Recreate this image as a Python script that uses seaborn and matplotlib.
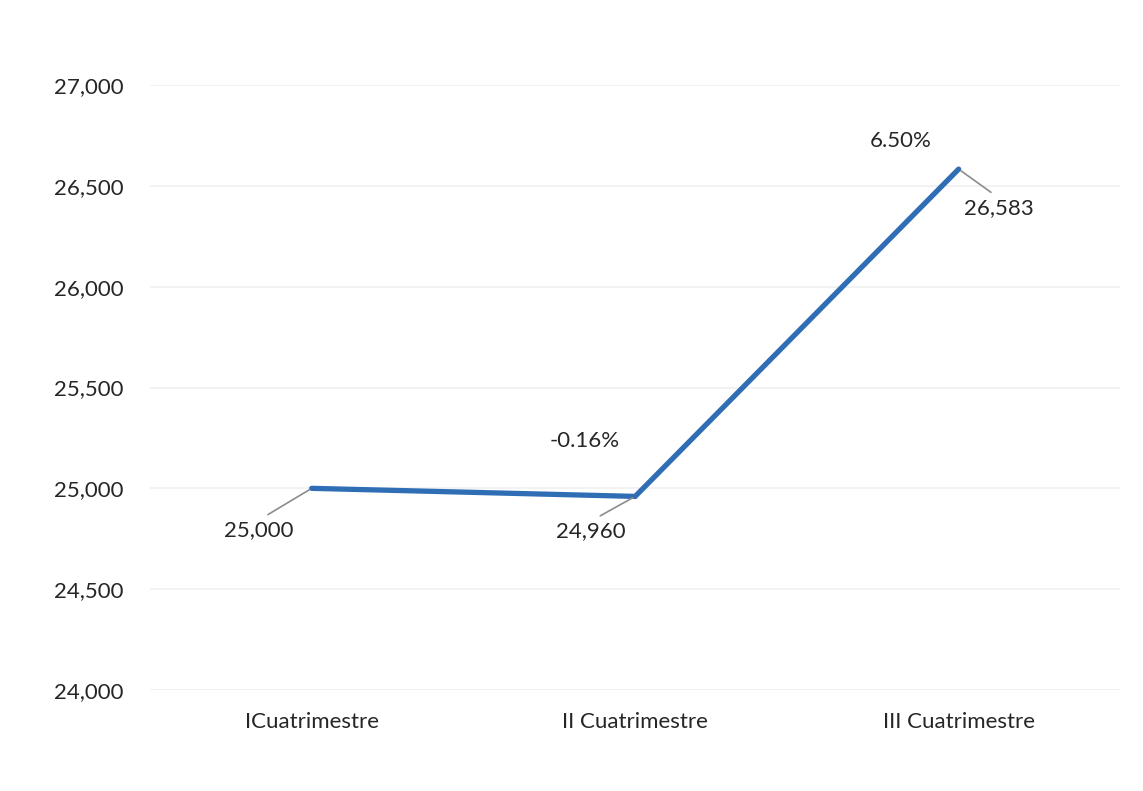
import matplotlib
matplotlib.use("Agg")
import matplotlib.pyplot as plt
import seaborn as sns
import pandas as pd
from matplotlib.ticker import FuncFormatter

# data
periods = ["ICuatrimestre", "II Cuatrimestre", "III Cuatrimestre"]
values = [25000, 24960, 26583]
pct_change = [None, "-0.16%", "6.50%"]

y_ticks = [24000, 24500, 25000, 25500, 26000, 26500, 27000]

# label placement (offsets in points from each point)
value_offsets = [(-38, -30), (-32, -25), (29, -28)]
pct_offsets = [None, (-36, 40), (-42, 20)]

sns.set_theme(style="white")
plt.rcParams["font.family"] = ["Lato", "DejaVu Sans"]

df = pd.DataFrame({"periodo": periods, "valor": values})

fig = plt.figure(figsize=(11.43, 7.91), dpi=100)
ax = fig.add_axes([0.1312, 0.1277, 0.849, 0.7648])

sns.lineplot(data=df, x="periodo", y="valor", ax=ax, color="#2F6EB5",
             linewidth=3.8, sort=False, solid_joinstyle="miter")

ax.set_ylim(y_ticks[0], y_ticks[-1])
ax.set_xlim(-0.5, len(periods) - 0.5)
ax.set_yticks(y_ticks)
ax.yaxis.set_major_formatter(FuncFormatter(lambda v, p: f"{v:,.0f}"))
ax.grid(axis="y", color="#F0F0F0", linewidth=1.2)
ax.set_axisbelow(True)
for s in ax.spines.values():
    s.set_visible(False)
ax.set_xlabel("")
ax.set_ylabel("")
fs = 16
ax.tick_params(axis="y", length=0, pad=19, labelsize=fs, labelcolor="#262626")
ax.tick_params(axis="x", length=0, pad=16, labelsize=fs, labelcolor="#262626")

for i, (v, off) in enumerate(zip(values, value_offsets)):
    ax.annotate(f"{v:,}", xy=(i, v), xytext=off, textcoords="offset points",
                ha="center", va="center", fontsize=fs, color="#262626",
                arrowprops=dict(arrowstyle="-", color="#8C8C8C", lw=1.2,
                                relpos=(0.5, 1.0), shrinkA=3, shrinkB=2))

for i, (p, off) in enumerate(zip(pct_change, pct_offsets)):
    if p is None:
        continue
    ax.annotate(p, xy=(i, values[i]), xytext=off, textcoords="offset points",
                ha="center", va="center", fontsize=fs, color="#262626")

fig.savefig("out.png", dpi=100)
